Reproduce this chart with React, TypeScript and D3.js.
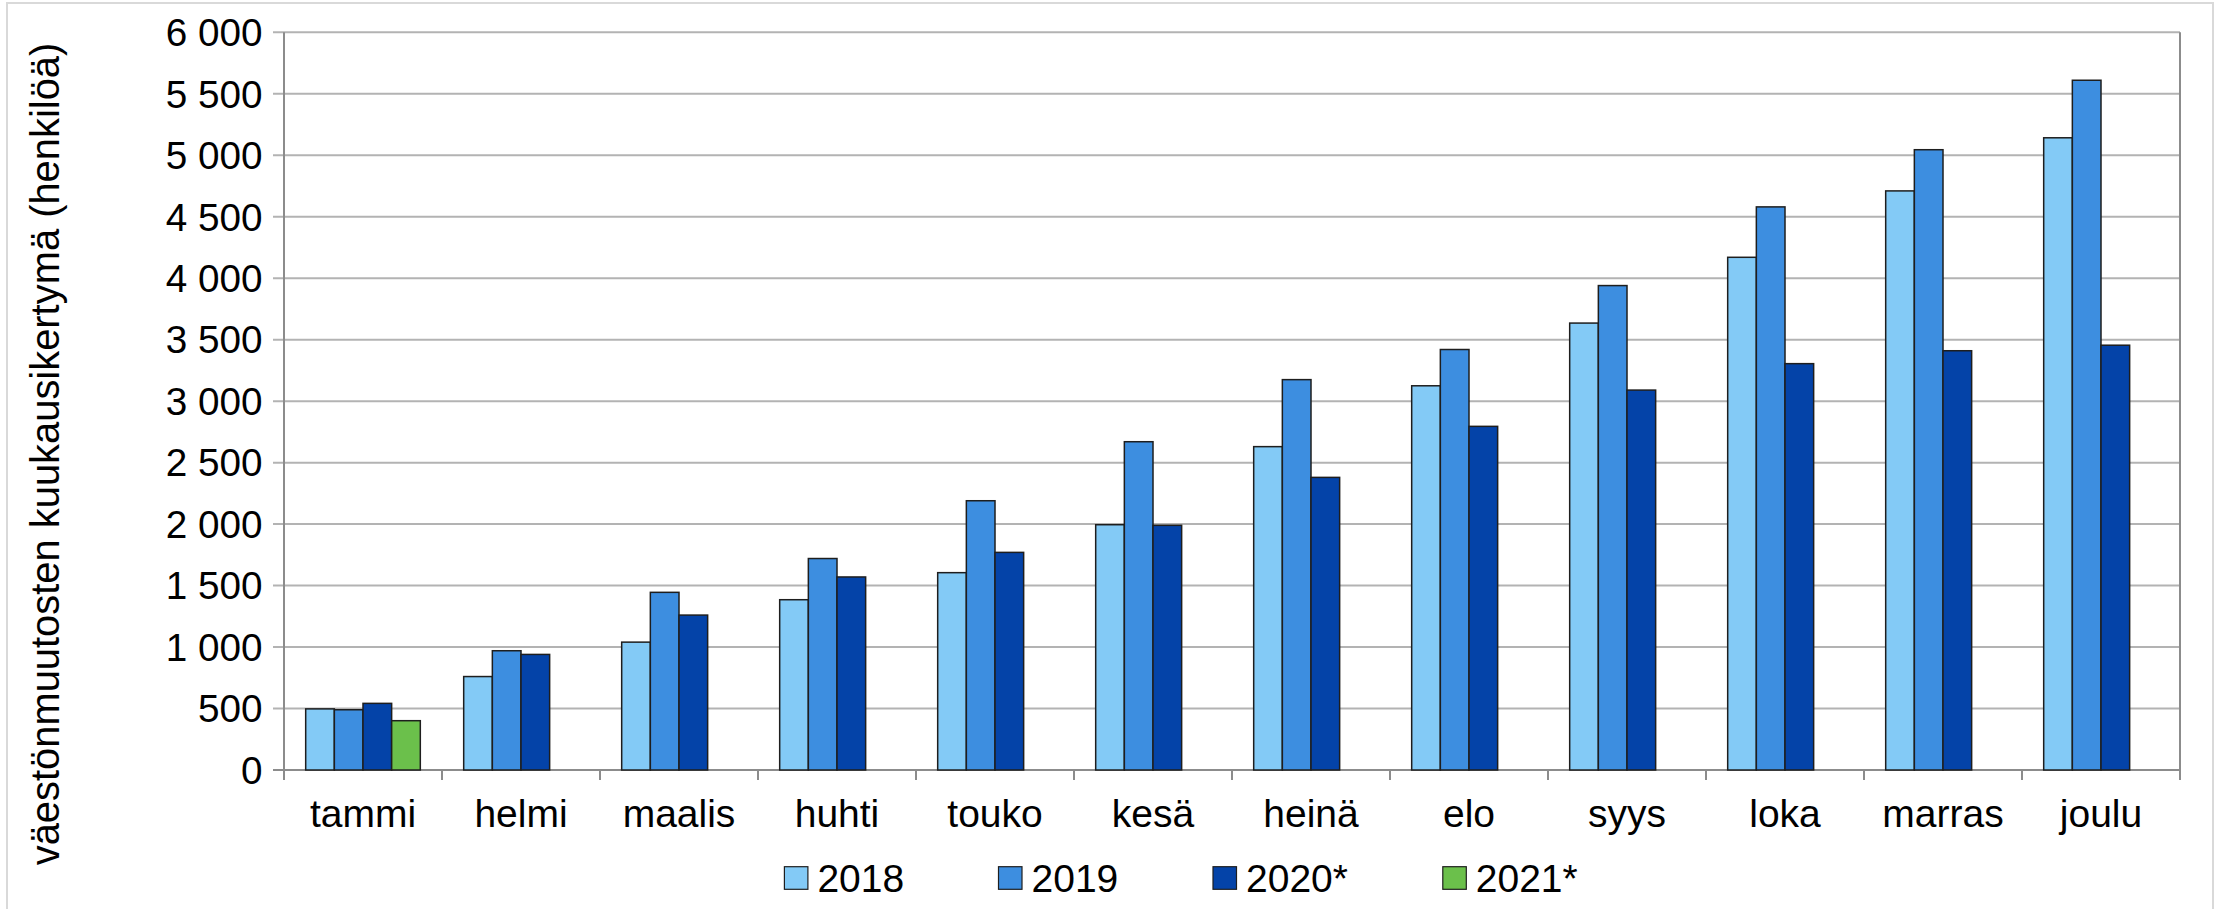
import React from "react";
import * as d3 from "d3";

const months = ["tammi", "helmi", "maalis", "huhti", "touko", "kesä", "heinä", "elo", "syys", "loka", "marras", "joulu"];
const seriesNames = ["2018", "2019", "2020*", "2021*"];
const seriesColors = ["#83caf6", "#3d8ee0", "#0443a8", "#6bc04b"];
const values2018 = [497, 760, 1040, 1385, 1605, 1995, 2630, 3125, 3635, 4170, 4710, 5142];
const values2019 = [490, 970, 1445, 1720, 2190, 2670, 3175, 3420, 3940, 4580, 5045, 5610];
const values2020 = [542, 940, 1260, 1570, 1770, 1990, 2380, 2795, 3090, 3305, 3410, 3455];
const values2021: (number | null)[] = [401, null, null, null, null, null, null, null, null, null, null, null];
const yTicks = [0, 500, 1000, 1500, 2000, 2500, 3000, 3500, 4000, 4500, 5000, 5500, 6000];
const yTitle = "väestönmuutosten kuukausikertymä (henkilöä)";

const W = 2217;
const H = 909;
const FONT = "'Liberation Sans', Arial, sans-serif";

export default function App() {
  React.useEffect(() => {
    document.body.style.margin = "0";
  }, []);

  const allSeries = [values2018, values2019, values2020, values2021];
  const x = d3.scaleBand<string>().domain(months).range([284, 2180]).padding(0);
  const inner = d3
    .scaleBand<string>()
    .domain(seriesNames)
    .range([0, x.bandwidth()])
    .paddingInner(0)
    .paddingOuter(0.757);
  const y = d3.scaleLinear().domain([0, 6000]).range([770, 32.3]);
  const fmt = (v: number) => d3.format(",")(v).replace(/,/g, " ");

  const legendX = [784.4, 998.5, 1213, 1442.8];

  return (
    <svg width={W} height={H} style={{ display: "block" }} fontFamily={FONT}>
      <rect x={0} y={0} width={W} height={H} fill="#ffffff" />
      <path d={`M7,${H + 5} V3 H2213 V${H + 5}`} fill="none" stroke="#d9d9d9" strokeWidth={2} />
      {/* gridlines */}
      {yTicks.map((t) => (
        <line key={"g" + t} x1={273} x2={2180} y1={y(t)} y2={y(t)} stroke={t === 0 ? "#8c8c8c" : "#b3b3b3"} strokeWidth={2} />
      ))}
      {/* right border */}
      <line x1={2180} x2={2180} y1={y(6000)} y2={780} stroke="#8c8c8c" strokeWidth={2} />
      {/* left axis */}
      <line x1={284} x2={284} y1={y(6000)} y2={780} stroke="#8c8c8c" strokeWidth={2} />
      {/* category ticks */}
      {months.map((m) => (
        <line key={"t" + m} x1={x(m)!} x2={x(m)!} y1={770} y2={780} stroke="#8c8c8c" strokeWidth={2} />
      ))}
      {/* bars */}
      {allSeries.map((vals, si) =>
        vals.map((v, mi) =>
          v == null ? null : (
            <rect
              key={`b${si}-${mi}`}
              x={x(months[mi])! + inner(seriesNames[si])!}
              y={y(v)}
              width={inner.bandwidth()}
              height={y(0) - y(v)}
              fill={seriesColors[si]}
              stroke="#1e1e1e"
              strokeWidth={1.5}
            />
          )
        )
      )}
      {/* y tick labels */}
      {yTicks.map((t) => (
        <text key={"l" + t} x={262.5} y={y(t) + 13.8} textAnchor="end" fontSize={38.7} fill="#000">
          {fmt(t)}
        </text>
      ))}
      {/* category labels */}
      {months.map((m) => (
        <text key={"c" + m} x={x(m)! + x.bandwidth() / 2} y={826.7} textAnchor="middle" fontSize={39} fill="#000">
          {m}
        </text>
      ))}
      {/* y title */}
      <text transform={`translate(59.3,454) rotate(-90)`} textAnchor="middle" fontSize={39.9} fill="#000">
        {yTitle}
      </text>
      {/* legend */}
      {seriesNames.map((s, i) => (
        <g key={"lg" + s}>
          <rect x={legendX[i]} y={866.7} width={23.5} height={22.6} fill={seriesColors[i]} stroke="#1e1e1e" strokeWidth={1.2} />
          <text x={legendX[i] + 33} y={891.7} fontSize={39} fill="#000">
            {s}
          </text>
        </g>
      ))}
    </svg>
  );
}
